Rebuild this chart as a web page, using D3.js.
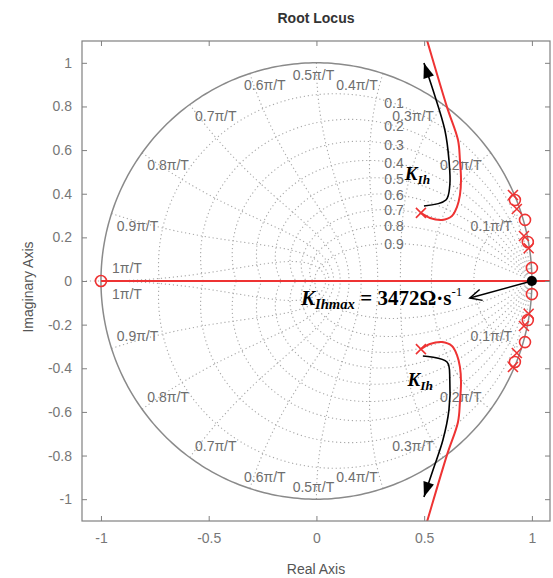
<!DOCTYPE html>
<html><head><meta charset="utf-8">
<script src="https://cdn.jsdelivr.net/npm/d3@7"></script>
<style>body{margin:0;background:#fff}svg{display:block}</style>
</head><body>
<svg id="chart" width="553" height="578"></svg>
<script>
// ---------- data ----------
const xTicks = [-1, -0.5, 0, 0.5, 1];
const yTicks = [-1, -0.8, -0.6, -0.4, -0.2, 0, 0.2, 0.4, 0.6, 0.8, 1];
const zetaVals = [0.1, 0.2, 0.3, 0.4, 0.5, 0.6, 0.7, 0.8, 0.9];
const wnVals = [0.1, 0.2, 0.3, 0.4, 0.5, 0.6, 0.7, 0.8, 0.9, 1];
// root locus branches (real, imag)
const upperBranch = [[0.485,0.312],[0.527,0.289],[0.582,0.280],[0.629,0.298],[0.652,0.339],[0.666,0.394],[0.671,0.463],[0.666,0.555],[0.657,0.646],[0.606,0.797],[0.513,1.104],[0.49,1.18]];
const lowerBranch = [[0.485,-0.312],[0.527,-0.289],[0.582,-0.280],[0.629,-0.298],[0.652,-0.339],[0.666,-0.394],[0.671,-0.463],[0.666,-0.555],[0.657,-0.646],[0.606,-0.797],[0.513,-1.104],[0.49,-1.18]];
const realBranch = [[-1,0],[1.2,0]];
const poles = [[0.485,0.312],[0.485,-0.312],[0.912,0.394],[0.930,0.330],[0.963,0.206],[0.985,0.150],[0.912,-0.394],[0.930,-0.330],[0.963,-0.206],[0.985,-0.150]];
const zeros = [[-1,0],[0.921,0.371],[0.968,0.280],[0.981,0.179],[1.0,0.06],[0.921,-0.371],[0.968,-0.280],[0.981,-0.179],[1.0,-0.06]];
const markPoint = [1.0, 0];
const upperArrow = [[0.499,0.344],[0.601,0.371],[0.619,0.44],[0.615,0.555],[0.596,0.692],[0.541,0.875],[0.499,0.999]];
const lowerArrow = [[0.494,-0.344],[0.606,-0.371],[0.619,-0.454],[0.615,-0.591],[0.587,-0.729],[0.541,-0.866],[0.499,-0.99]];
const kmaxArrowEnd = [0.712, -0.078];
const kmaxValue = "3472";

// ---------- layout ----------
const svg = d3.select("#chart");
const L = 82, R = 550, T = 41, B = 521;
const x = d3.scaleLinear().domain([-1.088, 1.084]).range([L, R]);
const y = d3.scaleLinear().domain([-1.1, 1.1]).range([B, T]);
const gray = "#808080", red = "#ee3333";

svg.append("rect").attr("width",553).attr("height",578).attr("fill","#fff");
svg.append("defs").append("clipPath").attr("id","clip")
  .append("rect").attr("x",L).attr("y",T).attr("width",R-L).attr("height",B-T);

const plot = svg.append("g").attr("clip-path","url(#clip)");
const line = d3.line().x(d=>x(d[0])).y(d=>y(d[1]));

// grid: damping curves
const dotted = {stroke:"#a8a8a8", w:1.1, dash:"1.2,2.8"};
function cexp(a, b){ const r=Math.exp(a); return [r*Math.cos(b), r*Math.sin(b)]; }
zetaVals.forEach(z=>{
  const s = Math.sqrt(1-z*z), tmax = Math.PI/s;
  [1,-1].forEach(sg=>{
    const pts = d3.range(0, 1.0001, 0.005).map(t=>{const th=t*tmax; const p=cexp(-z*th, th*s); return [p[0], sg*p[1]];});
    plot.append("path").attr("d", line(pts)).attr("fill","none").attr("stroke",dotted.stroke)
      .attr("stroke-width",dotted.w).attr("stroke-dasharray",dotted.dash);
  });
});
// grid: natural frequency curves
wnVals.forEach(w=>{
  const wn = w*Math.PI;
  [1,-1].forEach(sg=>{
    const pts = d3.range(0, 1.0001, 0.01).map(z=>{const p=cexp(-z*wn, wn*Math.sqrt(1-z*z)); return [p[0], sg*p[1]];});
    plot.append("path").attr("d", line(pts)).attr("fill","none").attr("stroke",dotted.stroke)
      .attr("stroke-width",dotted.w).attr("stroke-dasharray",dotted.dash);
  });
});
// real axis dotted
plot.append("path").attr("d", line([[-1.2,0],[1.2,0]])).attr("stroke",dotted.stroke)
  .attr("stroke-width",dotted.w).attr("stroke-dasharray",dotted.dash);
// unit circle
plot.append("path").attr("d", line(d3.range(0,361,1).map(a=>[Math.cos(a*Math.PI/180), Math.sin(a*Math.PI/180)])))
  .attr("fill","none").attr("stroke","#8a8a8a").attr("stroke-width",1.5);

// grid labels: zeta
const lblFont = "Liberation Sans, Arial, sans-serif";
zetaVals.forEach(z=>{
  const s = Math.sqrt(1-z*z);
  let lo=0, hi=Math.PI/(2*s);
  for(let i=0;i<60;i++){const m=(lo+hi)/2; const p=cexp(-z*m, m*s); if(p[0]>0.36) lo=m; else hi=m;}
  const p = cexp(-z*lo, lo*s);
  plot.append("text").attr("x", x(p[0])).attr("y", y(p[1])+5).attr("text-anchor","middle")
    .attr("font-family",lblFont).attr("font-size",14).attr("fill","#6e6e6e").text(String(z));
});
// grid labels: wn
wnVals.forEach(w=>{
  const a = w*Math.PI, c = Math.cos(a);
  [1,-1].forEach(sg=>{
    const px = x(Math.cos(a)), py = y(sg*Math.sin(a));
    let dx = c>0.05 ? -30 : (c<-0.05 ? (c>-0.4 ? 15 : 26) : -3);
    if (c>0.05 && c<0.4) dx = -26;
    let cy = Math.abs(Math.sin(a))<0.05 ? -13*sg : 12*sg;
    plot.append("text").attr("x", px+dx).attr("y", py+cy+5).attr("text-anchor","middle")
      .attr("font-family",lblFont).attr("font-size",14).attr("fill","#6e6e6e")
      .text((w===1?"1":String(w))+"π/T");
  });
});

// locus
[upperBranch, lowerBranch].forEach(b=>{
  plot.append("path").attr("d", d3.line().x(d=>x(d[0])).y(d=>y(d[1])).curve(d3.curveCatmullRom)(b))
    .attr("fill","none").attr("stroke",red).attr("stroke-width",2);
});
plot.append("path").attr("d", line(realBranch)).attr("stroke",red).attr("stroke-width",2);
// poles and zeros
zeros.forEach(d=>{
  plot.append("circle").attr("cx",x(d[0])).attr("cy",y(d[1])).attr("r",5.5)
    .attr("fill","none").attr("stroke",red).attr("stroke-width",1.6);
});
poles.forEach(d=>{
  const cx=x(d[0]), cy=y(d[1]), k=5;
  plot.append("path").attr("d",`M${cx-k},${cy-k}L${cx+k},${cy+k}M${cx-k},${cy+k}L${cx+k},${cy-k}`)
    .attr("stroke",red).attr("stroke-width",1.6);
});

// axes box and ticks
svg.append("rect").attr("x",L).attr("y",T).attr("width",R-L).attr("height",B-T)
  .attr("fill","none").attr("stroke",gray).attr("stroke-width",1.2);
const ax = svg.append("g");
ax.append("g").attr("transform",`translate(0,${B})`).call(d3.axisBottom(x).tickValues(xTicks).tickSizeInner(-5).tickSizeOuter(0).tickPadding(12).tickFormat(d=>String(d)));
ax.append("g").attr("transform",`translate(0,${T})`).call(d3.axisTop(x).tickValues(xTicks).tickSizeInner(-5).tickSizeOuter(0).tickFormat(""));
ax.append("g").attr("transform",`translate(${L},0)`).call(d3.axisLeft(y).tickValues(yTicks).tickSizeInner(-5).tickSizeOuter(0).tickPadding(10).tickFormat(d=>String(d)));
ax.append("g").attr("transform",`translate(${R},0)`).call(d3.axisRight(y).tickValues(yTicks).tickSizeInner(-5).tickSizeOuter(0).tickFormat(""));
ax.selectAll(".domain").remove();
ax.selectAll(".tick line").attr("stroke",gray);
ax.selectAll(".tick text").attr("fill","#777").attr("font-size",14).attr("font-family",lblFont);

// titles
svg.append("text").attr("x",316).attr("y",23).attr("text-anchor","middle").attr("font-family",lblFont)
  .attr("font-weight","bold").attr("font-size",14).attr("fill","#333").text("Root Locus");
svg.append("text").attr("x",316).attr("y",574).attr("text-anchor","middle").attr("font-family",lblFont)
  .attr("font-size",14).attr("fill","#555").text("Real Axis");
svg.append("text").attr("transform","translate(33,287) rotate(-90)").attr("text-anchor","middle").attr("font-family",lblFont)
  .attr("font-size",14).attr("fill","#555").text("Imaginary Axis");

// annotations
const ann = svg.append("g");
function arrowPath(pts){
  ann.append("path").attr("d", d3.line().x(d=>x(d[0])).y(d=>y(d[1])).curve(d3.curveCatmullRom)(pts))
    .attr("fill","none").attr("stroke","#000").attr("stroke-width",1.6);
  const p1 = pts[pts.length-2], p2 = pts[pts.length-1];
  const X2=x(p2[0]), Y2=y(p2[1]), ang=Math.atan2(Y2-y(p1[1]), X2-x(p1[0]));
  const len=15, hw=5.5;
  const bx=X2-len*Math.cos(ang), by=Y2-len*Math.sin(ang);
  ann.append("path").attr("d",`M${X2},${Y2}L${bx-hw*Math.sin(ang)},${by+hw*Math.cos(ang)}L${bx+hw*Math.sin(ang)},${by-hw*Math.cos(ang)}Z`)
    .attr("fill","#000");
}
arrowPath(upperArrow);
arrowPath(lowerArrow);
// Kmax arrow
{
  const X1=x(markPoint[0]), Y1=y(markPoint[1]), X2=x(kmaxArrowEnd[0]), Y2=y(kmaxArrowEnd[1]);
  ann.append("line").attr("x1",X1).attr("y1",Y1).attr("x2",X2).attr("y2",Y2).attr("stroke","#000").attr("stroke-width",1.5);
  const ang=Math.atan2(Y2-Y1, X2-X1), len=13, spread=0.45;
  ann.append("path").attr("d",`M${X2-len*Math.cos(ang-spread)},${Y2-len*Math.sin(ang-spread)}L${X2},${Y2}L${X2-len*Math.cos(ang+spread)},${Y2-len*Math.sin(ang+spread)}`)
    .attr("fill","none").attr("stroke","#000").attr("stroke-width",1.5);
  ann.append("circle").attr("cx",X1).attr("cy",Y1).attr("r",5).attr("fill","#000");
}
const serif = "Liberation Serif, Times New Roman, serif";
function kLabel(px, py, sub, fs){
  const t = ann.append("text").attr("x",px).attr("y",py).attr("font-family",serif).attr("font-weight","bold").attr("font-size",fs);
  t.append("tspan").attr("font-style","italic").text("K");
  t.append("tspan").attr("font-style","italic").attr("font-size",fs*0.7).attr("dy",4).text(sub);
  return t;
}
kLabel(x(0.41), y(0.465), "Ih", 19);
kLabel(x(0.423), y(-0.48), "Ih", 19);
{
  const t = kLabel(x(-0.072), y(-0.108), "Ihmax", 21);
  t.append("tspan").attr("dy",-4).text(" = " + kmaxValue + "Ω·s");
  t.append("tspan").attr("font-size",13).attr("font-weight","normal").attr("dy",-9).text("-1");
}
</script>
</body></html>
